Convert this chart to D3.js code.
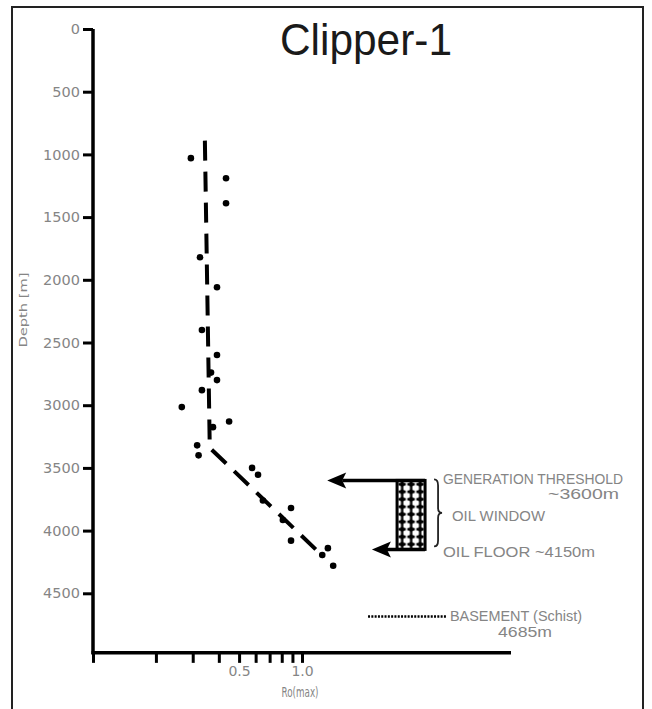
<!DOCTYPE html>
<html>
<head>
<meta charset="utf-8">
<script src="https://cdn.jsdelivr.net/npm/d3@7"></script>
<style>
  body { margin: 0; background: #fff; }
  svg { display: block; }
</style>
</head>
<body>
<svg id="chart" width="652" height="709"></svg>
<script>
// Vitrinite reflectance samples, Clipper-1: Ro(max) in % and depth in metres
const roValues    = [0.294, 0.433, 0.433, 0.325, 0.392, 0.332, 0.392, 0.367, 0.392, 0.332, 0.266, 0.448,
                     0.375, 0.315, 0.320, 0.577, 0.616, 0.650, 0.886, 0.810, 0.886, 1.33, 1.25, 1.41];
const depthValues = [1030, 1190, 1390, 1820, 2060, 2400, 2600, 2740, 2800, 2880, 3015, 3130,
                     3175, 3320, 3400, 3500, 3555, 3760, 3820, 3915, 4080, 4140, 4195, 4280];

// Interpreted maturity trend (dashed)
const trendRo    = [0.343, 0.362, 1.27];
const trendDepth = [890, 3340, 4210];

// Axis ticks
const depthTicks = [0, 500, 1000, 1500, 2000, 2500, 3000, 3500, 4000, 4500];
const roTicks = [0.1, 0.2, 0.3, 0.4, 0.5, 0.6, 0.7, 0.8, 0.9, 1.0];
const roTickLabels = ["", "", "", "", "0.5", "", "", "", "", "1.0"];

// Key depths (m)
const generationDepth = 3600;
const floorDepth = 4150;
const basementDepth = 4685;
const axisBaseDepth = 4975;

// Horizontal anchors of the annotation, in Ro units
const genArrowTipRo = 1.32;
const floorArrowTipRo = 2.16;
const windowBoxRo = [2.85, 3.88];
const basementRo = [2.07, 4.94];

const svg = d3.select("#chart");

const x = d3.scaleLog().domain([0.1, 10]).range([93, 511]);
const y = d3.scaleLinear().domain([0, 5000]).range([29, 656]);

const labelFont = "'DejaVu Sans', sans-serif";
const textFont = "'Liberation Sans', Arial, sans-serif";
const grey = "#858585";

// Page frame
svg.append("rect")
  .attr("x", 12).attr("y", 7).attr("width", 631).attr("height", 712)
  .attr("fill", "none").attr("stroke", "#222").attr("stroke-width", 2);

// Pattern for the oil window block
const defs = svg.append("defs");
const pat = defs.append("pattern")
  .attr("id", "oilPattern").attr("patternUnits", "userSpaceOnUse")
  .attr("x", x(windowBoxRo[0]) + 0.5).attr("y", y(generationDepth))
  .attr("width", 9).attr("height", 7.5);
pat.append("rect").attr("width", 9).attr("height", 7.5).attr("fill", "#fff");
pat.append("rect").attr("x", 3.4).attr("y", 0).attr("width", 2.4).attr("height", 7.5).attr("fill", "#000");
pat.append("rect").attr("x", 0.8).attr("y", 2.6).attr("width", 7.4).attr("height", 2.5).attr("fill", "#000");
pat.append("circle").attr("cx", 4.6).attr("cy", 3.8).attr("r", 2.4).attr("fill", "#000");

// Title
svg.append("text")
  .attr("x", 280).attr("y", 55)
  .attr("font-family", textFont).attr("font-size", 44)
  .attr("textLength", 172).attr("lengthAdjust", "spacingAndGlyphs")
  .attr("fill", "#1a1a1a")
  .text("Clipper-1");

// Y axis (depth)
const yAxis = svg.append("g")
  .attr("transform", `translate(${x.range()[0]},0)`)
  .call(d3.axisLeft(y).tickValues(depthTicks).tickSize(10).tickPadding(3).tickFormat(d3.format("d")));
yAxis.select(".domain").remove();
yAxis.selectAll(".tick line").attr("stroke", "#000").attr("stroke-width", 3);
yAxis.selectAll(".tick text")
  .attr("font-family", labelFont).attr("font-size", 14.5).attr("fill", grey);

// X axis (Ro, log scale)
const xAxis = svg.append("g")
  .attr("transform", `translate(0,${y(axisBaseDepth)})`)
  .call(d3.axisBottom(x).tickValues(roTicks).tickSize(10).tickPadding(3)
    .tickFormat((d, i) => roTickLabels[i]));
xAxis.select(".domain").remove();
xAxis.selectAll(".tick line").attr("stroke", "#000").attr("stroke-width", 3);
xAxis.selectAll(".tick text")
  .attr("font-family", labelFont).attr("font-size", 14).attr("fill", grey);

// Axis lines
svg.append("line")
  .attr("x1", x.range()[0]).attr("x2", x.range()[0])
  .attr("y1", y(0)).attr("y2", y(axisBaseDepth) + 1.5)
  .attr("stroke", "#000").attr("stroke-width", 3.5);
svg.append("line")
  .attr("x1", x.range()[0] - 1.5).attr("x2", x.range()[1])
  .attr("y1", y(axisBaseDepth)).attr("y2", y(axisBaseDepth))
  .attr("stroke", "#000").attr("stroke-width", 3.5);

// Axis titles
svg.append("text")
  .attr("transform", `translate(27,310) rotate(-90)`)
  .attr("text-anchor", "middle")
  .attr("font-family", labelFont).attr("font-size", 10.5).attr("fill", grey)
  .attr("textLength", 75).attr("lengthAdjust", "spacingAndGlyphs")
  .text("Depth [m]");
svg.append("text")
  .attr("x", 300).attr("y", 697)
  .attr("text-anchor", "middle")
  .attr("font-family", labelFont).attr("font-size", 13.5).attr("fill", grey)
  .attr("textLength", 37).attr("lengthAdjust", "spacingAndGlyphs")
  .text("Ro(max)");

// Trend line
const trend = trendRo.map((r, i) => [r, trendDepth[i]]);
svg.append("path")
  .attr("d", d3.line().x(d => x(d[0])).y(d => y(d[1]))(trend))
  .attr("fill", "none").attr("stroke", "#000")
  .attr("stroke-width", 4).attr("stroke-dasharray", "20 11");

// Samples
svg.append("g").selectAll("circle")
  .data(roValues.map((r, i) => [r, depthValues[i]]))
  .join("circle")
  .attr("cx", d => x(d[0])).attr("cy", d => y(d[1]))
  .attr("r", 3.3).attr("fill", "#000");

// Oil window annotation
const yGen = y(generationDepth);
const yFloor = y(floorDepth);
const boxL = x(windowBoxRo[0]);
const boxR = x(windowBoxRo[1]);

svg.append("rect")
  .attr("x", boxL).attr("y", yGen)
  .attr("width", boxR - boxL).attr("height", yFloor - yGen)
  .attr("fill", "url(#oilPattern)").attr("stroke", "#000").attr("stroke-width", 3);

function arrow(tipX, fromX, yy) {
  const head = 19, half = 8;
  svg.append("line")
    .attr("x1", tipX + head - 4).attr("x2", fromX)
    .attr("y1", yy).attr("y2", yy)
    .attr("stroke", "#000").attr("stroke-width", 3.5);
  svg.append("path")
    .attr("d", `M${tipX},${yy} L${tipX + head},${yy - half} L${tipX + head - 4},${yy} L${tipX + head},${yy + half} Z`)
    .attr("fill", "#000");
}
arrow(x(genArrowTipRo), boxR, yGen);
arrow(x(floorArrowTipRo), boxR, yFloor);

// Curly brace
const bx = boxR + 9, bTop = yGen - 1, bBot = yFloor - 3, bMid = (bTop + bBot) / 2;
svg.append("path")
  .attr("d", `M${bx},${bTop} Q${bx + 4},${bTop} ${bx + 4},${bTop + 6} L${bx + 4},${bMid - 5}
              Q${bx + 4},${bMid} ${bx + 8},${bMid} Q${bx + 4},${bMid} ${bx + 4},${bMid + 5}
              L${bx + 4},${bBot - 6} Q${bx + 4},${bBot} ${bx},${bBot}`)
  .attr("fill", "none").attr("stroke", "#222").attr("stroke-width", 1.8);

function note(txt, xx, yy, len, anchor) {
  svg.append("text")
    .attr("x", xx).attr("y", yy)
    .attr("text-anchor", anchor || "start")
    .attr("font-family", textFont).attr("font-size", 14.5).attr("fill", grey)
    .attr("textLength", len).attr("lengthAdjust", "spacingAndGlyphs")
    .text(txt);
}
note("GENERATION THRESHOLD", 443, yGen + 4, 180);
note("~3600m", 619, yGen + 19, 71, "end");
note("OIL WINDOW", 452, (yGen + yFloor) / 2 + 6, 93);
note("OIL FLOOR ~4150m", 443, yFloor + 8, 152);

// Basement
const yB = y(basementDepth);
svg.append("line")
  .attr("x1", x(basementRo[0])).attr("x2", x(basementRo[1]))
  .attr("y1", yB).attr("y2", yB)
  .attr("stroke", "#000").attr("stroke-width", 2.5).attr("stroke-dasharray", "2 1.3");
note("BASEMENT (Schist)", 450, yB + 5, 132);
note("4685m", 498, yB + 21, 54);
</script>
</body>
</html>
